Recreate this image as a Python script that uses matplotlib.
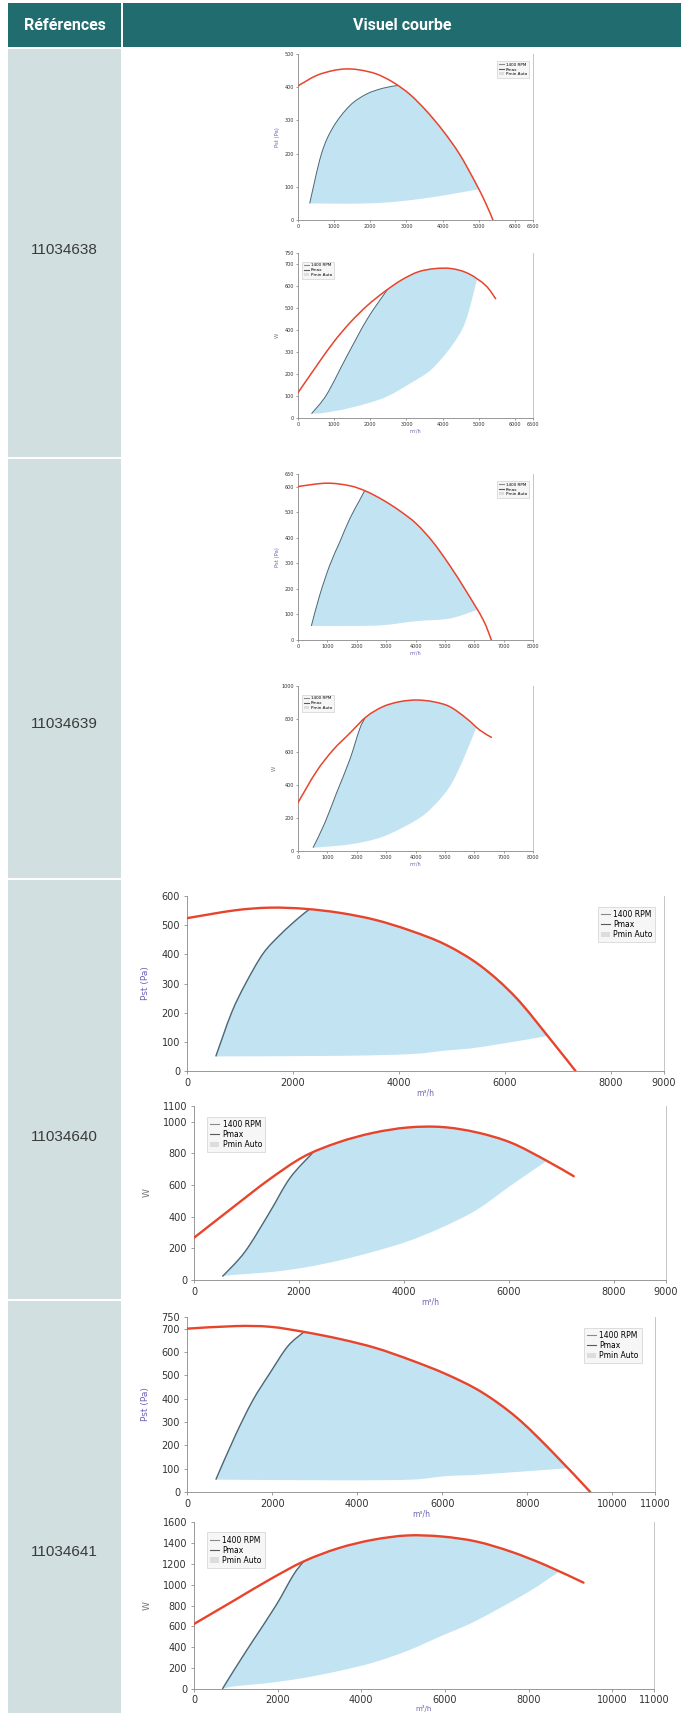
import numpy as np
import matplotlib
matplotlib.use("Agg")
import matplotlib.pyplot as plt
from matplotlib.patches import Rectangle, PathPatch, Patch
from matplotlib.path import Path
from matplotlib.lines import Line2D

W, H = 681, 1713

# ---------------- data ----------------
references = ["11034638", "11034639", "11034640", "11034641"]
header_left = "Références"
header_right = "Visuel courbe"
legend_labels = ["1400 RPM", "Pmax", "Pmin Auto"]

# chart 1 : 11034638 pressure
c1_red_x = [0, 507, 968, 1336, 1705, 2166, 2627, 3088, 3548, 4009, 4470, 4931, 5207, 5392]
c1_red_y = [404, 435, 450, 455, 452, 440, 415, 379, 329, 269, 198, 108, 47, 0]
c1_pmax_x = [323, 645, 968, 1429, 1889, 2350, 2750]
c1_pmax_y = [50, 198, 279, 344, 379, 397, 405]
c1_pmin_x = [323, 1429, 2350, 3272, 4194, 5000]
c1_pmin_y = [50, 49, 52, 62, 77, 93]

# chart 2 : 11034638 power
c2_red_x = [0, 514, 981, 1449, 1916, 2383, 2850, 3318, 3785, 4252, 4720, 5187, 5467]
c2_red_y = [115, 237, 344, 435, 511, 573, 626, 664, 679, 679, 656, 603, 542]
c2_pmax_x = [374, 794, 1355, 1916, 2477]
c2_pmax_y = [20, 107, 282, 450, 585]
c2_pmin_x = [374, 701, 1449, 2383, 3131, 3692, 4252, 4626, 4950]
c2_pmin_y = [20, 23, 46, 92, 160, 221, 328, 435, 628]

# chart 3 : 11034639 pressure
c3_red_x = [0, 965, 1759, 2327, 2894, 3462, 4030, 4597, 5165, 5732, 6300, 6583]
c3_red_y = [601, 614, 604, 582, 548, 506, 455, 383, 292, 190, 80, 0]
c3_pmax_x = [454, 738, 1078, 1419, 1759, 2100, 2270]
c3_pmax_y = [55, 175, 292, 383, 474, 548, 585]
c3_pmin_x = [454, 1759, 2894, 4030, 5165, 6100]
c3_pmin_y = [55, 55, 58, 74, 84, 118]

# chart 4 : 11034639 power
c4_red_x = [0, 624, 1192, 1759, 2327, 2894, 3462, 4030, 4597, 5165, 5732, 6186, 6583]
c4_red_y = [293, 481, 612, 713, 814, 875, 905, 915, 905, 875, 804, 733, 689]
c4_pmax_x = [511, 908, 1305, 1759, 2100, 2270]
c4_pmax_y = [20, 168, 349, 552, 740, 802]
c4_pmin_x = [511, 1759, 2894, 4030, 4597, 5165, 5619, 6073]
c4_pmin_y = [20, 40, 87, 188, 269, 390, 552, 750]

# chart 5 : 11034640 pressure
c5_red_x = [0, 908, 1570, 2232, 2894, 3556, 4219, 4881, 5543, 6205, 6868, 7331]
c5_red_y = [524, 551, 560, 556, 542, 518, 481, 433, 360, 252, 106, 0]
c5_pmax_x = [543, 841, 1106, 1437, 1768, 2099, 2298]
c5_pmax_y = [50, 200, 300, 403, 469, 524, 553]
c5_pmin_x = [543, 2894, 4219, 4881, 5543, 6800]
c5_pmin_y = [50, 52, 58, 70, 82, 120]

# chart 6 : 11034640 power
c6_red_x = [0, 772, 1432, 2092, 2752, 3412, 4073, 4733, 5393, 6053, 6713, 7241]
c6_red_y = [267, 467, 635, 780, 870, 930, 964, 967, 933, 867, 756, 656]
c6_pmax_x = [541, 970, 1432, 1828, 2257]
c6_pmax_y = [22, 178, 422, 644, 802]
c6_pmin_x = [541, 772, 1432, 2092, 2752, 3412, 4073, 4733, 5393, 6053, 6713]
c6_pmin_y = [22, 33, 49, 78, 122, 178, 244, 333, 444, 600, 750]

# chart 7 : 11034641 pressure
c7_red_x = [0, 1132, 1959, 2785, 3612, 4438, 5264, 6091, 6917, 7744, 8570, 9479]
c7_red_y = [700, 711, 708, 685, 655, 617, 565, 505, 429, 320, 175, 0]
c7_pmax_x = [677, 1132, 1544, 1957, 2370, 2750]
c7_pmax_y = [53, 241, 392, 512, 625, 686]
c7_pmin_x = [677, 3612, 5264, 6091, 6917, 8950]
c7_pmin_y = [53, 50, 53, 68, 75, 102]

# chart 8 : 11034641 power
c8_red_x = [0, 967, 1793, 2620, 3446, 4273, 5099, 5926, 6752, 7579, 8405, 9314]
c8_red_y = [623, 850, 1045, 1222, 1348, 1429, 1471, 1461, 1413, 1316, 1187, 1019]
c8_pmax_x = [678, 967, 1380, 1959, 2372, 2620]
c8_pmax_y = [0, 187, 445, 800, 1090, 1222]
c8_pmin_x = [678, 967, 1793, 2620, 3446, 4273, 5099, 5926, 6752, 7992, 8736]
c8_pmin_y = [0, 26, 58, 106, 171, 252, 365, 510, 655, 929, 1126]

# axis ticks
c12_xticks = [0, 1000, 2000, 3000, 4000, 5000, 6000, 6500]
c34_xticks = [0, 1000, 2000, 3000, 4000, 5000, 6000, 7000, 8000]
c56_xticks = [0, 2000, 4000, 6000, 8000, 9000]
c78_xticks = [0, 2000, 4000, 6000, 8000, 10000, 11000]
c1_yticks = [0, 100, 200, 300, 400, 500]
c2_yticks = [0, 100, 200, 300, 400, 500, 600, 700, 750]
c3_yticks = [0, 100, 200, 300, 400, 500, 600, 650]
c4_yticks = [0, 200, 400, 600, 800, 1000]
c5_yticks = [0, 100, 200, 300, 400, 500, 600]
c6_yticks = [0, 200, 400, 600, 800, 1000, 1100]
c7_yticks = [0, 100, 200, 300, 400, 500, 600, 700, 750]
c8_yticks = [0, 200, 400, 600, 800, 1000, 1200, 1400, 1600]

# ---------------- figure ----------------
fig = plt.figure(figsize=(W / 100, H / 100), dpi=100)
fig.patch.set_facecolor("white")

TEAL = "#216c6f"
LIGHT = "#d1dfe0"


def rect(x0, y0, x1, y1, color):
    fig.patches.append(Rectangle((x0 / W, 1 - y1 / H), (x1 - x0) / W, (y1 - y0) / H,
                                 transform=fig.transFigure, facecolor=color,
                                 edgecolor="none", zorder=0))


# header
rect(8, 3, 121, 47, TEAL)
rect(123, 3, 681, 47, TEAL)
hdr_font = ["Roboto", "DejaVu Sans"]
fig.text(64.5 / W, 1 - 25.5 / H, header_left, color="white", fontsize=11.5,
         fontweight="bold", ha="center", va="center", family=hdr_font)
fig.text(402 / W, 1 - 25.5 / H, header_right, color="white", fontsize=11.5,
         fontweight="bold", ha="center", va="center", family=hdr_font)

# left column cells
row_spans = [(49, 457), (459, 878), (880, 1299), (1301, 1713)]
label_y = [250, 724, 1137, 1552]
for (y0, y1), ref, ly in zip(row_spans, references, label_y):
    rect(8, y0, 121, y1, LIGHT)
    fig.text(64.5 / W, 1 - ly / H, ref, color="#3a3a3a", fontsize=11,
             ha="center", va="center", family=["Liberation Sans", "DejaVu Sans"])

RED = "#e8442c"
FILL = "#c2e3f1"
PMAX = "#4d6675"
PURPLE = "#6b63b5"


def bezier(x, y):
    """Smooth (Excel-like) cubic Bezier path through the given points."""
    P = np.column_stack([x, y]).astype(float)
    n = len(P)
    verts = [P[0]]
    codes = [Path.MOVETO]
    for i in range(n - 1):
        p0 = P[i - 1] if i > 0 else P[i]
        p1 = P[i]
        p2 = P[i + 1]
        p3 = P[i + 2] if i + 2 < n else P[i + 1]
        verts += [p1 + (p2 - p0) / 6.0, p2 - (p3 - p1) / 6.0, p2]
        codes += [Path.CURVE4] * 3
    return verts, codes


def region_path(rx, ry, px, py, mx, my):
    rx = np.asarray(rx, float)
    ry = np.asarray(ry, float)
    mask = (rx > px[-1]) & (rx < mx[-1])
    v1, c1 = bezier(px, py)
    v2, c2 = bezier([px[-1]] + list(rx[mask]) + [mx[-1]],
                    [py[-1]] + list(ry[mask]) + [my[-1]])
    v3, c3 = bezier(mx[::-1], my[::-1])
    verts = v1 + v2[1:] + v3[1:] + [v1[0]]
    codes = c1 + c2[1:] + c3[1:] + [Path.CLOSEPOLY]
    return Path(verts, codes)


def smooth_line(ax, x, y, **kw):
    v, c = bezier(x, y)
    ax.add_patch(PathPatch(Path(v, c), facecolor="none", **kw))


def chart(pos, rx, ry, px, py, mx, my, xlim, ylim, xticks, yticks,
          ylabel, xlabel, small, leg_loc, leg_anchor):
    l, r, t, b = pos
    ax = fig.add_axes([l / W, 1 - b / H, (r - l) / W, (b - t) / H])
    ax.add_patch(PathPatch(region_path(rx, ry, px, py, mx, my),
                           facecolor=FILL, edgecolor="none", zorder=1))
    smooth_line(ax, px, py, edgecolor=PMAX, lw=0.7 if small else 1.0, zorder=2)
    smooth_line(ax, rx, ry, edgecolor=RED, lw=1.1 if small else 1.7, zorder=3,
                capstyle="round")
    ax.set_xlim(*xlim)
    ax.set_ylim(*ylim)
    ax.set_xticks(xticks)
    ax.set_yticks(yticks)
    fs = 3.5 if small else 7
    ax.tick_params(labelsize=fs, length=1.5 if small else 2.5, width=0.5,
                   color="#777777", labelcolor="#333333", pad=1.5 if small else 2.5)
    for s in ["left", "bottom"]:
        ax.spines[s].set_color("#888888")
        ax.spines[s].set_linewidth(0.6)
    ax.spines["right"].set_color("#bbbbbb")
    ax.spines["right"].set_linewidth(0.6)
    ax.spines["top"].set_visible(False)
    ycol = PURPLE if ylabel.startswith("P") else "#777777"
    ax.set_ylabel(ylabel, fontsize=3.8 if small else 6.5, color=ycol,
                  labelpad=3 if small else 8)
    if xlabel:
        ax.set_xlabel("m³/h", fontsize=3.5 if small else 5.5, color=PURPLE,
                      labelpad=1 if small else 0.5)
    handles = [Line2D([0], [0], color="#8a8a8a", lw=0.8),
               Line2D([0], [0], color="#5a5a5a", lw=0.8),
               Patch(facecolor="#dddddd", edgecolor="none")]
    leg = ax.legend(handles, legend_labels, loc=leg_loc, bbox_to_anchor=leg_anchor,
                    fontsize=3 if small else 5.5, frameon=True, fancybox=False,
                    handlelength=1.2, handletextpad=0.4, borderpad=0.4,
                    labelspacing=0.2 if small else 0.15)
    leg.get_frame().set_edgecolor("#bbbbbb")
    leg.get_frame().set_linewidth(0.4)
    leg.get_frame().set_facecolor("#f4f4f4")
    return ax


chart((298, 533, 54, 220), c1_red_x, c1_red_y, c1_pmax_x, c1_pmax_y, c1_pmin_x, c1_pmin_y,
      (0, 6500), (0, 500), c12_xticks, c1_yticks, "Pst (Pa)", False, True,
      "upper right", (0.99, 0.97))
chart((298, 533, 253, 418), c2_red_x, c2_red_y, c2_pmax_x, c2_pmax_y, c2_pmin_x, c2_pmin_y,
      (0, 6500), (0, 750), c12_xticks, c2_yticks, "W", True, True,
      "upper left", (0.01, 0.96))
chart((298, 533, 474, 640), c3_red_x, c3_red_y, c3_pmax_x, c3_pmax_y, c3_pmin_x, c3_pmin_y,
      (0, 8000), (0, 650), c34_xticks, c3_yticks, "Pst (Pa)", True, True,
      "upper right", (0.99, 0.97))
chart((298, 533, 686, 851), c4_red_x, c4_red_y, c4_pmax_x, c4_pmax_y, c4_pmin_x, c4_pmin_y,
      (0, 8000), (0, 1000), c34_xticks, c4_yticks, "W", True, True,
      "upper left", (0.01, 0.96))
chart((187, 664, 896, 1071), c5_red_x, c5_red_y, c5_pmax_x, c5_pmax_y, c5_pmin_x, c5_pmin_y,
      (0, 9000), (0, 600), c56_xticks, c5_yticks, "Pst (Pa)", True, False,
      "upper right", (0.99, 0.96))
chart((194, 666, 1106, 1280), c6_red_x, c6_red_y, c6_pmax_x, c6_pmax_y, c6_pmin_x, c6_pmin_y,
      (0, 9000), (0, 1100), c56_xticks, c6_yticks, "W", True, False,
      "upper left", (0.02, 0.96))
chart((187, 655, 1317, 1492), c7_red_x, c7_red_y, c7_pmax_x, c7_pmax_y, c7_pmin_x, c7_pmin_y,
      (0, 11000), (0, 750), c78_xticks, c7_yticks, "Pst (Pa)", True, False,
      "upper right", (0.98, 0.96))
ax8 = chart((194, 654, 1522, 1689), c8_red_x, c8_red_y, c8_pmax_x, c8_pmax_y, c8_pmin_x,
            c8_pmin_y, (0, 11000), (0, 1600), c78_xticks, c8_yticks, "W", True, False,
            "upper left", (0.02, 0.96))
ax8.tick_params(axis="x", pad=1.5)
ax8.set_xlabel("m³/h", fontsize=5, color=PURPLE, labelpad=0)

fig.savefig("out.png", dpi=100)
